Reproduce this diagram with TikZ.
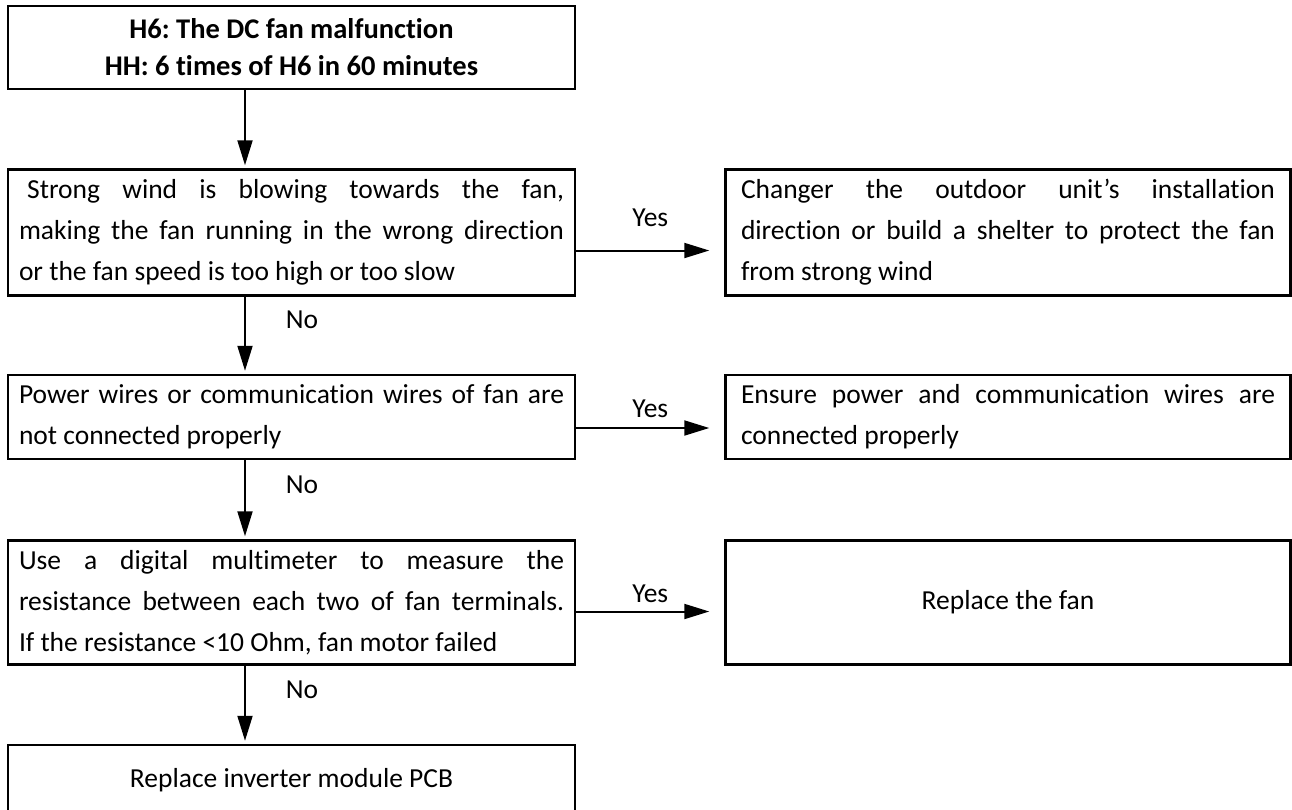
\documentclass[tikz,border=0pt]{standalone}
\usepackage{fontspec}
\setmainfont{Carlito}[Ligatures={NoCommon},RawFeature={-liga;-clig}]
\usetikzlibrary{arrows.meta, positioning}
\frenchspacing
\newcommand\flowfont{\fontsize{27.5}{41}\selectfont\hyphenpenalty=10000\exhyphenpenalty=10000\tolerance=10000}
\newcommand\titlefont{\fontsize{28.5}{37}\selectfont\bfseries}
\tikzset{
  box/.style={rectangle,draw=black,line width=2.5pt,minimum width=567pt,
    text width=545pt,align=justify,inner sep=0pt,font=\flowfont},
  titlebox/.style={box,align=flush center,font=\titlefont},
  sidebox/.style={box,minimum width=565pt,text width=534pt},
  arrow/.style={-{Triangle[length=25pt,width=15pt]},line width=2pt,draw=black},
  lbl/.style={font=\flowfont,inner sep=0pt}
}
\begin{document}
\begin{tikzpicture}[x=1pt,y=-1pt]
  \useasboundingbox (0,0) rectangle (1292,809);
  \node[titlebox, minimum height=83pt] (fault) at (291.5,47.5)
    {H6: The DC fan malfunction\\ HH: 6 times of H6 in 60 minutes};
  \node[box, minimum height=126pt, below=78pt of fault] (wind)
    {\hspace*{0.3em}Strong wind is blowing towards the fan,\linebreak
     making the fan running in the wrong direction\linebreak
     or the fan speed is too high or too slow};
  \node[box, minimum height=84pt, below=77pt of wind] (wires)
    {Power wires or communication wires of fan are\linebreak
     not connected properly};
  \node[box, minimum height=124pt, below=79pt of wires] (meter)
    {Use a digital multimeter to measure the\linebreak
     resistance between each two of fan terminals.\linebreak
     If the resistance <10 Ohm, fan motor failed};
  \node[box, minimum height=70pt, align=flush center, below=78pt of meter] (pcb)
    {Replace inverter module PCB};
  \node[sidebox, minimum height=126pt, right=148pt of wind] (shelter)
    {Changer the outdoor unit’s installation\linebreak
     direction or build a shelter to protect the fan\linebreak
     from strong wind};
  \node[sidebox, minimum height=84pt, right=148pt of wires] (ensure)
    {Ensure power and communication wires are\linebreak
     connected properly};
  \node[sidebox, minimum height=124pt, align=flush center, right=148pt of meter] (fan)
    {Replace the fan};

  \draw[arrow, shorten >=3pt] ([xshift=-46.5pt]fault.south) -- ([xshift=-46.5pt]wind.north);
  \draw[arrow, shorten >=3pt] ([xshift=-46.5pt]wind.south)
    -- node[lbl, xshift=57pt, yshift=15pt] {No} ([xshift=-46.5pt]wires.north);
  \draw[arrow, shorten >=3pt] ([xshift=-46.5pt]wires.south)
    -- node[lbl, xshift=57pt, yshift=15pt] {No} ([xshift=-46.5pt]meter.north);
  \draw[arrow, shorten >=3pt] ([xshift=-46.5pt]meter.south)
    -- node[lbl, xshift=57pt, yshift=15pt] {No} ([xshift=-46.5pt]pcb.north);
  \draw[arrow, shorten >=15pt] ([yshift=-18pt]wind.east)
    -- node[lbl, yshift=33pt] {Yes} ([yshift=-18pt]shelter.west);
  \draw[arrow, shorten >=15pt] ([yshift=-11pt]wires.east)
    -- node[lbl, yshift=19pt] {Yes} ([yshift=-11pt]ensure.west);
  \draw[arrow, shorten >=15pt] ([yshift=-9pt]meter.east)
    -- node[lbl, yshift=18pt] {Yes} ([yshift=-9pt]fan.west);
\end{tikzpicture}
\end{document}
